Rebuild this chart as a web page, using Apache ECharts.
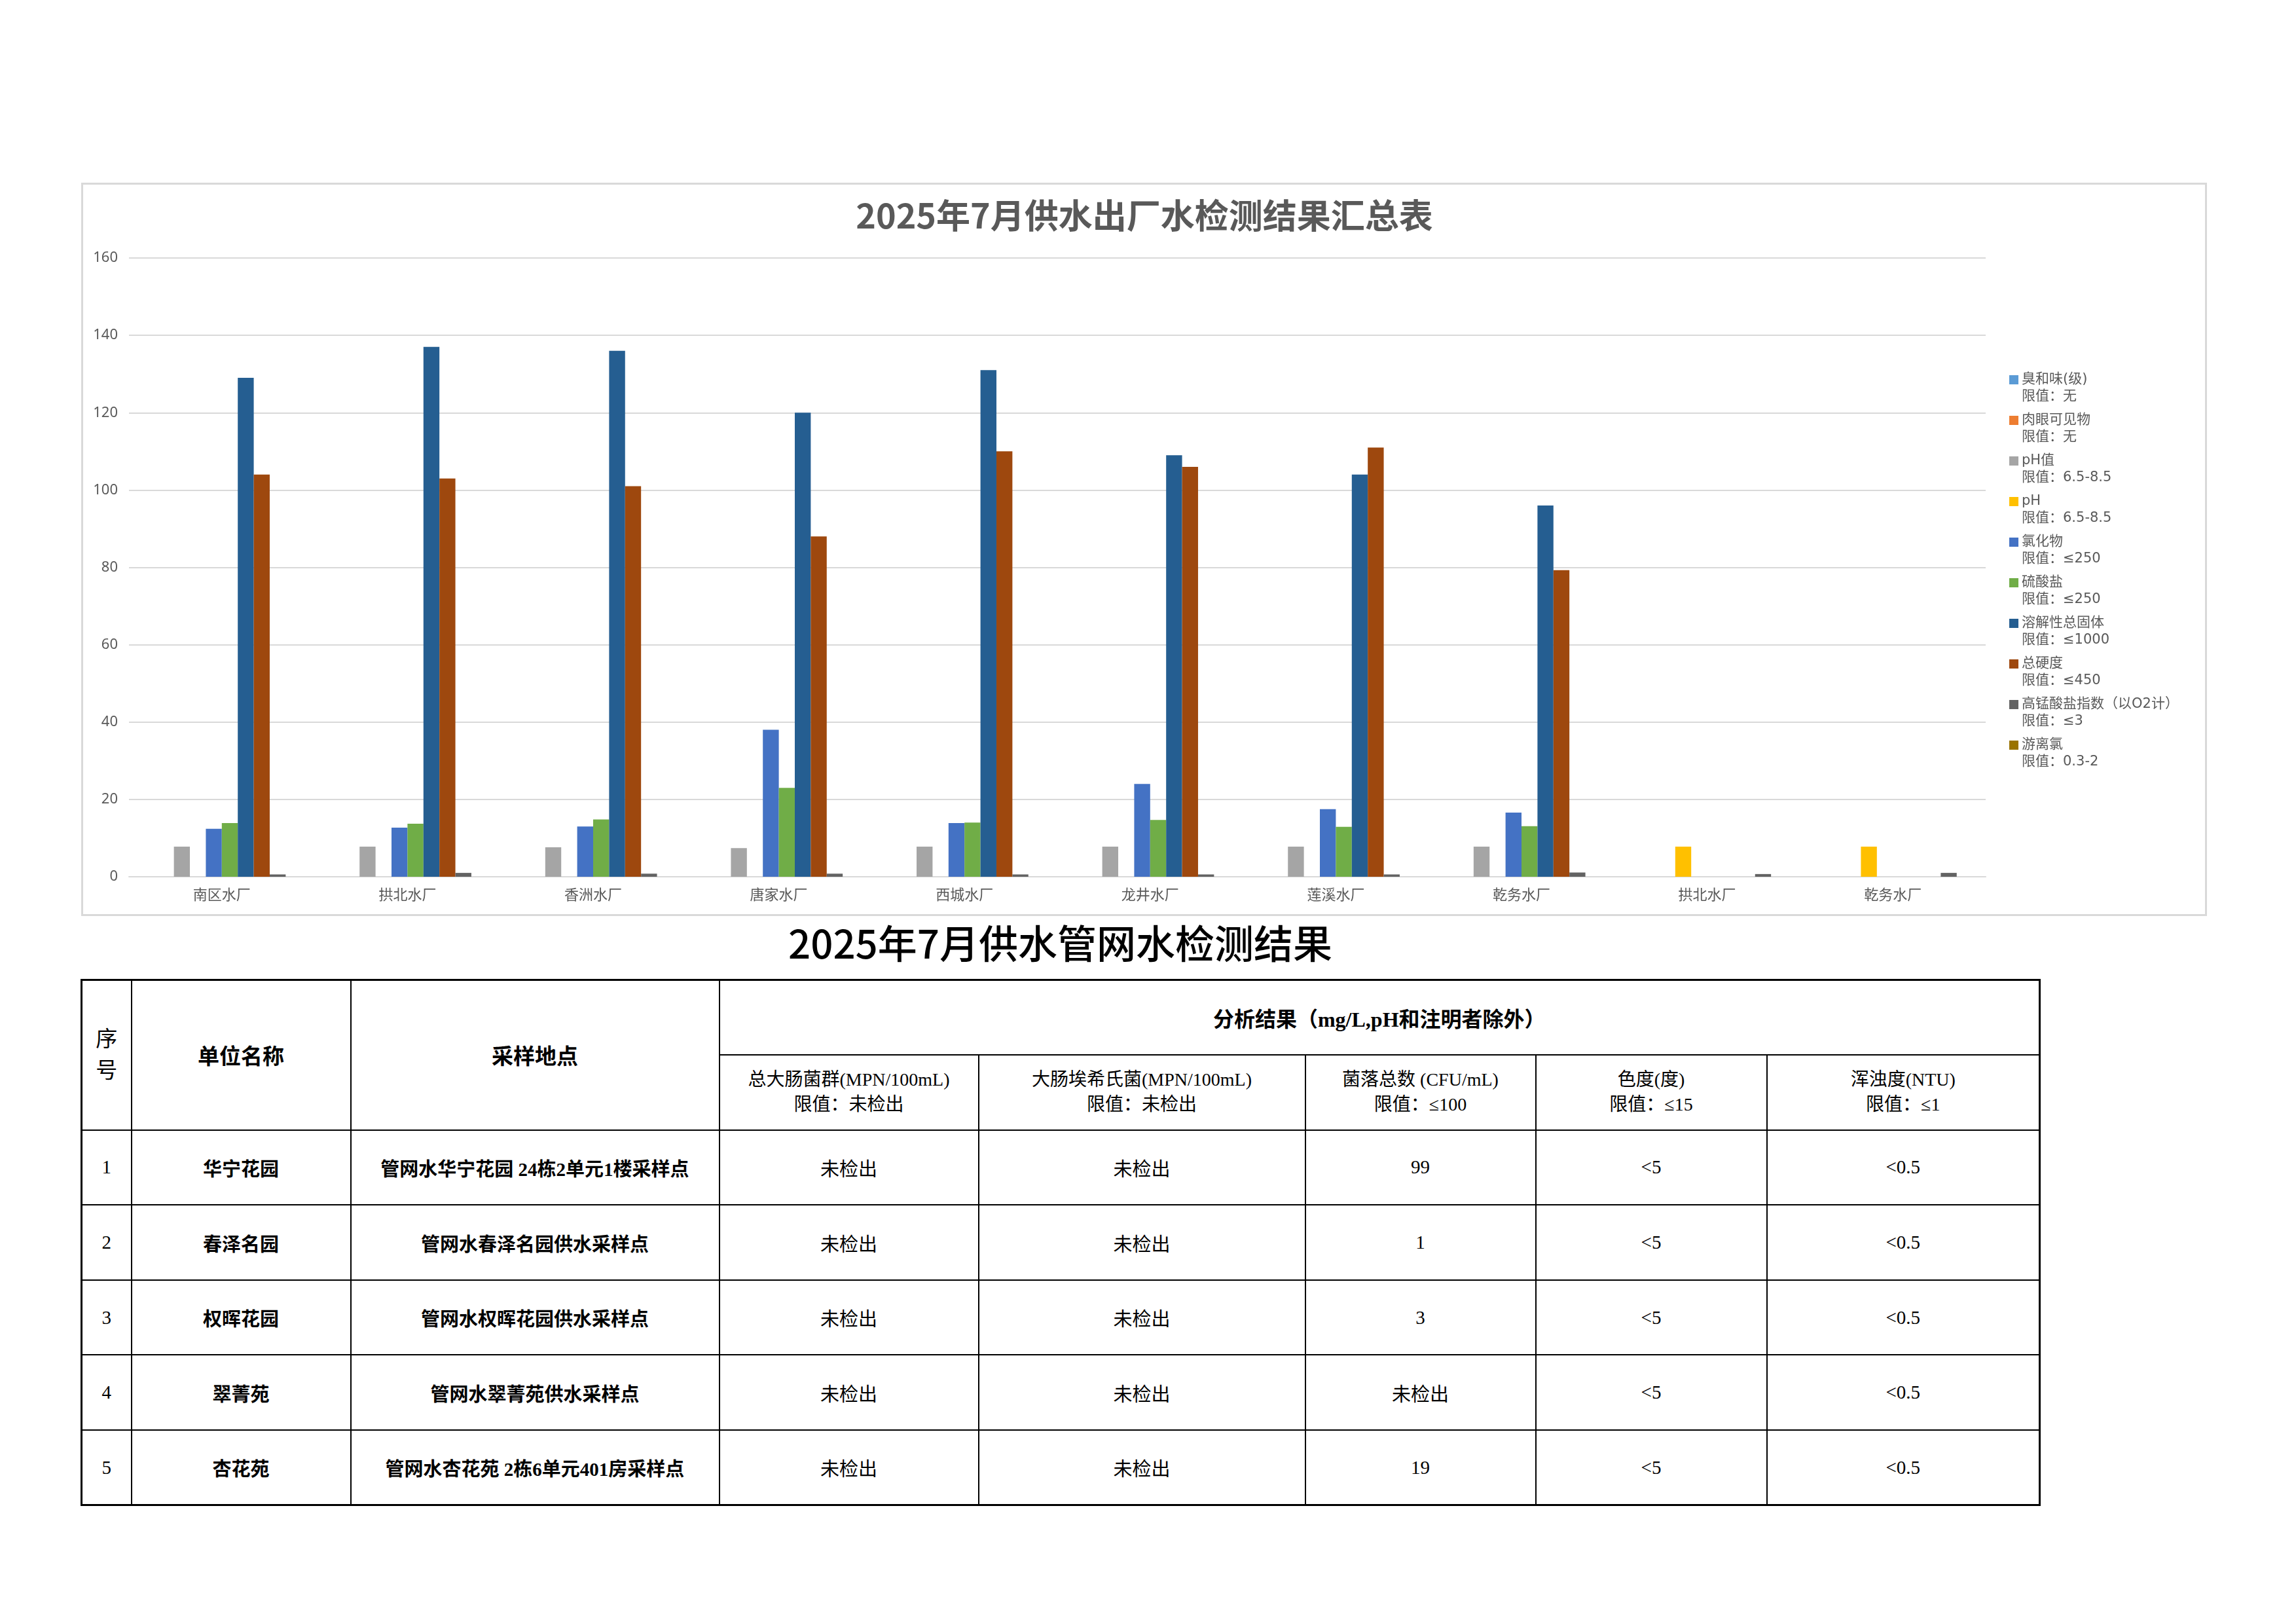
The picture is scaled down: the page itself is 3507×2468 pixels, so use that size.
<!DOCTYPE html>
<html lang="zh">
<head>
    <meta charset="UTF-8">
    <title>2025年7月供水检测结果</title>
    <script type="text/javascript" src="https://cdn.jsdelivr.net/npm/echarts/dist/echarts.min.js"></script>
    <style>
        html, body { margin: 0; padding: 0; background: #fff; }
        body { width: 3507px; height: 2468px; position: relative; overflow: hidden; }
        #frame {
            position: absolute; left: 124px; top: 279px; width: 3247px; height: 1120px;
            border: 3px solid #d9d9d9; box-sizing: border-box;
        }
        #main { position: absolute; left: 0; top: 0; width: 3507px; height: 1420px; }
        #subtitle {
            position: absolute; left: 124px; top: 1405px; width: 2991px;
            text-align: center; font: 500 60px/66px "Noto Sans CJK SC", sans-serif; color: #000;
        }
        #tbl {
            position: absolute; left: 123px; top: 1495px; width: 2993px;
            border-collapse: collapse; table-layout: fixed;
            font-family: "Liberation Serif", "Noto Sans CJK SC", serif; color: #000;
            border: 3px solid #000;
        }
        #tbl td { border: 2px solid #000; text-align: center; vertical-align: middle; padding: 0; }
        #tbl tr { height: 114.6px; }
        #tbl .h1 { font-size: 33px; font-weight: bold; }
        #tbl .xh { font-size: 33px; line-height: 48px; }
        #tbl .h2 { font-size: 28px; line-height: 38px; }
        #tbl .cell { font-size: 29px; }
        #tbl .b { font-weight: bold; }
    </style>
</head>
<body>

    <div id="frame"></div>
    <div id="main"></div>
    <div id="subtitle">2025年7月供水管网水检测结果</div>
    <table id="tbl"></table>

</body>
<script>

    // 出厂水 图表数据
    var categories = ['南区水厂', '拱北水厂', '香洲水厂', '唐家水厂', '西城水厂', '龙井水厂', '莲溪水厂', '乾务水厂', '拱北水厂', '乾务水厂'];
    var seriesNames = ['臭和味(级)', '肉眼可见物', 'pH值', 'pH', '氯化物', '硫酸盐', '溶解性总固体', '总硬度', '高锰酸盐指数（以O2计）', '游离氯'];
    var seriesLimits = ['无', '无', '6.5-8.5', '6.5-8.5', '≤250', '≤250', '≤1000', '≤450', '≤3', '0.3-2'];
    var seriesColors = ['#5B9BD5', '#ED7D31', '#A5A5A5', '#FFC000', '#4472C4', '#70AD47', '#255E91', '#9E480E', '#636363', '#997300'];

    var odour      = [null, null, null, null, null, null, null, null, null, null];
    var visible    = [null, null, null, null, null, null, null, null, null, null];
    var phValue    = [7.8, 7.8, 7.6, 7.4, 7.8, 7.8, 7.8, 7.8, null, null];
    var ph         = [null, null, null, null, null, null, null, null, 7.8, 7.8];
    var chloride   = [12.4, 12.7, 13.0, 38.0, 13.9, 24.0, 17.5, 16.6, null, null];
    var sulfate    = [13.9, 13.7, 14.8, 23.0, 14.0, 14.7, 12.9, 13.1, null, null];
    var tds        = [129, 137, 136, 120, 131, 109, 104, 96, null, null];
    var hardness   = [104, 103, 101, 88, 110, 106, 111, 79.3, null, null];
    var permangan  = [0.6, 1.0, 0.8, 0.8, 0.6, 0.6, 0.6, 1.1, 0.7, 1.0];
    var freeChlor  = [null, null, null, null, null, null, null, null, null, null];
    var seriesData = [odour, visible, phValue, ph, chloride, sulfate, tds, hardness, permangan, freeChlor];

    var yTicks = {min: 0, max: 160, interval: 20};

    // 管网水 表格数据
    var subHeads = [
        ['总大肠菌群(MPN/100mL)', '限值：未检出'],
        ['大肠埃希氏菌(MPN/100mL)', '限值：未检出'],
        ['菌落总数 (CFU/mL)', '限值：≤100'],
        ['色度(度)', '限值：≤15'],
        ['浑浊度(NTU)', '限值：≤1']
    ];
    var units = ['华宁花园', '春泽名园', '权晖花园', '翠菁苑', '杏花苑'];
    var sites = ['管网水华宁花园 24栋2单元1楼采样点', '管网水春泽名园供水采样点', '管网水权晖花园供水采样点', '管网水翠菁苑供水采样点', '管网水杏花苑 2栋6单元401房采样点'];
    var coliform = ['未检出', '未检出', '未检出', '未检出', '未检出'];
    var ecoli    = ['未检出', '未检出', '未检出', '未检出', '未检出'];
    var colonies = ['99', '1', '3', '未检出', '19'];
    var colour   = ['<5', '<5', '<5', '<5', '<5'];
    var turbid   = ['<0.5', '<0.5', '<0.5', '<0.5', '<0.5'];
    var colWidths = [76, 335, 563, 396, 499, 352, 353, 417];

    var limitMap = {};
    seriesNames.forEach(function (n, i) { limitMap[n] = seriesLimits[i]; });

    var series = seriesNames.map(function (n, i) {
        return {
            name: n,
            type: 'bar',
            barGap: 0,
            barCategoryGap: '14%',
            itemStyle: {color: seriesColors[i]},
            data: seriesData[i]
        };
    });

    var mainChart = echarts.init(document.getElementById('main'));
    mainChart.setOption({
        backgroundColor: 'transparent',
        animation: false,
        color: seriesColors,
        title: {
            text: '2025年7月供水出厂水检测结果汇总表',
            left: 1743,
            top: 298,
            textAlign: 'center',
            textStyle: {
                fontFamily: 'Noto Sans CJK SC',
                fontSize: 52,
                fontWeight: 'bold',
                color: '#595959'
            }
        },
        legend: {
            orient: 'vertical',
            left: 3064,
            top: 536,
            itemWidth: 14,
            itemHeight: 14,
            itemGap: -16,
            icon: 'rect',
            // 空首行让色块对齐名称那一行
            formatter: function (name) {
                return '\n' + name + '\n限值：' + limitMap[name];
            },
            textStyle: {
                fontFamily: 'DejaVu Sans, Noto Sans CJK SC',
                fontSize: 21,
                lineHeight: 26,
                color: '#595959'
            },
            data: seriesNames
        },
        grid: {
            left: 197,
            right: 474,
            top: 394,
            height: 945
        },
        xAxis: {
            type: 'category',
            data: categories,
            axisLine: {lineStyle: {color: '#d9d9d9', width: 2}},
            axisTick: {show: false},
            axisLabel: {
                fontFamily: 'Noto Sans CJK SC',
                fontSize: 22,
                color: '#595959',
                margin: 16
            }
        },
        yAxis: {
            type: 'value',
            min: yTicks.min,
            max: yTicks.max,
            interval: yTicks.interval,
            axisLine: {show: false},
            axisTick: {show: false},
            splitLine: {lineStyle: {color: '#d9d9d9', width: 2}},
            axisLabel: {
                fontFamily: 'Noto Sans',
                fontSize: 22,
                color: '#595959',
                margin: 17
            }
        },
        series: series
    });

    // 表格
    function esc(s) {
        return String(s).replace(/&/g, '&amp;').replace(/</g, '&lt;').replace(/>/g, '&gt;');
    }

    var html = '<colgroup>';
    colWidths.forEach(function (w) { html += '<col style="width:' + w + 'px">'; });
    html += '</colgroup>';
    html += '<tr><td rowspan="2" class="xh">序<br>号</td>'
        + '<td rowspan="2" class="h1">单位名称</td>'
        + '<td rowspan="2" class="h1">采样地点</td>'
        + '<td colspan="5" class="h1" style="font-size:32px">分析结果（mg/L,pH和注明者除外）</td></tr>';
    html += '<tr>';
    subHeads.forEach(function (h) {
        html += '<td class="h2">' + esc(h[0]) + '<br>' + esc(h[1]) + '</td>';
    });
    html += '</tr>';
    for (var i = 0; i < units.length; i++) {
        html += '<tr>'
            + '<td class="cell">' + (i + 1) + '</td>'
            + '<td class="cell b">' + esc(units[i]) + '</td>'
            + '<td class="cell b">' + esc(sites[i]) + '</td>'
            + '<td class="cell">' + esc(coliform[i]) + '</td>'
            + '<td class="cell">' + esc(ecoli[i]) + '</td>'
            + '<td class="cell">' + esc(colonies[i]) + '</td>'
            + '<td class="cell">' + esc(colour[i]) + '</td>'
            + '<td class="cell">' + esc(turbid[i]) + '</td>'
            + '</tr>';
    }
    document.getElementById('tbl').innerHTML = html;

</script>
</html>
